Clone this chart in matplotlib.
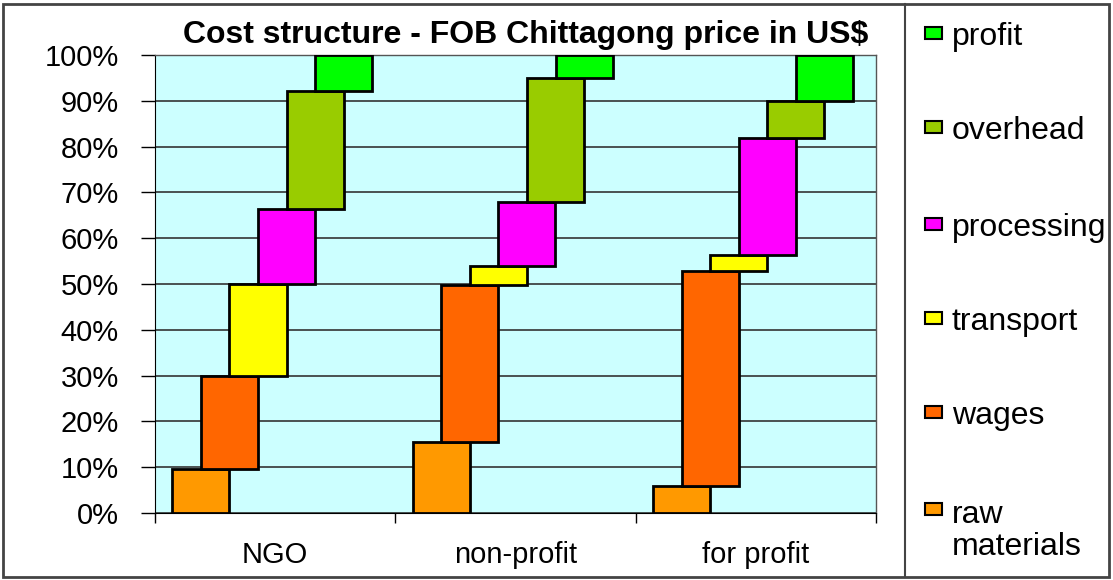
import numpy as np
import matplotlib

matplotlib.use("Agg")
import matplotlib.pyplot as plt
from matplotlib.patches import Rectangle
from matplotlib.lines import Line2D

plt.rcParams["font.family"] = ["Liberation Sans", "DejaVu Sans"]

# categorias y componentes del coste (% del precio FOB)
categories = ["NGO", "non-profit", "for profit"]
components = ["raw materials", "wages", "transport", "processing", "overhead", "profit"]
legend_labels = ["raw\nmaterials", "wages", "transport", "processing", "overhead", "profit"]
colors = ["#FF9900", "#FF6600", "#FFFF00", "#FF00FF", "#99CC00", "#00FF00"]

raw_materials = [9.5, 15.5, 6.0]
wages = [20.5, 34.2, 46.8]
transport = [20.0, 4.3, 3.6]
processing = [16.4, 13.8, 25.5]
overhead = [25.8, 27.2, 8.1]
profit = [7.8, 5.0, 10.0]

series = [raw_materials, wages, transport, processing, overhead, profit]

fig = plt.figure(figsize=(11.13, 5.8), dpi=100)
ax = fig.add_axes([155 / 1113, 67 / 580, 721 / 1113, 458 / 580])
ax.set_facecolor("#CCFFFF")

width = 0.2375
step = 0.119
x = np.arange(len(categories))
bottom = np.zeros(len(categories))
for k, (vals, col) in enumerate(zip(series, colors)):
    off = (k - 2.5) * step - 0.012
    ax.bar(x + off, vals, width=width, bottom=bottom, color=col,
           edgecolor="black", linewidth=2, zorder=3)
    bottom = bottom + np.array(vals)

ax.set_xlim(-0.5, len(categories) - 0.5)
ax.set_ylim(0, 100)
ax.set_yticks(np.arange(0, 101, 10))
ax.set_yticklabels([f"{v}%" for v in range(0, 101, 10)], fontsize=21)
ax.yaxis.grid(True, color="#333333", linewidth=1.2, zorder=0)
ax.set_axisbelow(True)

ax.set_xticks(np.arange(-0.5, len(categories), 1.0))
ax.set_xticklabels([])
ax.set_xticks(x, minor=True)
ax.set_xticklabels(categories, minor=True, fontsize=21)
ax.tick_params(axis="x", which="minor", length=0, pad=20)
ax.tick_params(axis="x", which="major", length=7, width=1, direction="out")
ax.tick_params(axis="y", length=10, width=1, direction="out", pad=16)

for s in ["top", "right"]:
    ax.spines[s].set_color("#555555")
    ax.spines[s].set_linewidth(1)
ax.spines["left"].set_color("black")
ax.spines["bottom"].set_color("black")

fig.text(526 / 1113, 1 - 35 / 580, "Cost structure - FOB Chittagong price in US$",
         ha="center", va="center", fontsize=23, fontweight="bold")

# marco exterior y caja de leyenda
fig.patches.append(Rectangle((3 / 1113, 3 / 580), 1106 / 1113, 573 / 580,
                             transform=fig.transFigure, fill=False,
                             edgecolor="#444444", linewidth=2))
fig.lines.append(Line2D([905 / 1113, 905 / 1113], [3 / 580, 576 / 580],
                        transform=fig.transFigure, color="#444444", linewidth=1.5))

# leyenda manual (orden inverso: profit arriba)
ys = [531, 416, 322, 228, 131, 37]
marker_ys = [513, 416, 322, 228, 131, 37]
for lab, col, yc, ym in zip(legend_labels, colors, ys, marker_ys):
    fig.patches.append(Rectangle((925 / 1113, 1 - (ym + 2) / 580), 17 / 1113, 12 / 580,
                                 transform=fig.transFigure, facecolor=col,
                                 edgecolor="black", linewidth=1.5))
    fig.text(952 / 1113, 1 - yc / 580, lab, ha="left", va="center",
             fontsize=23, linespacing=1.05)

fig.savefig("out.png", dpi=100)
